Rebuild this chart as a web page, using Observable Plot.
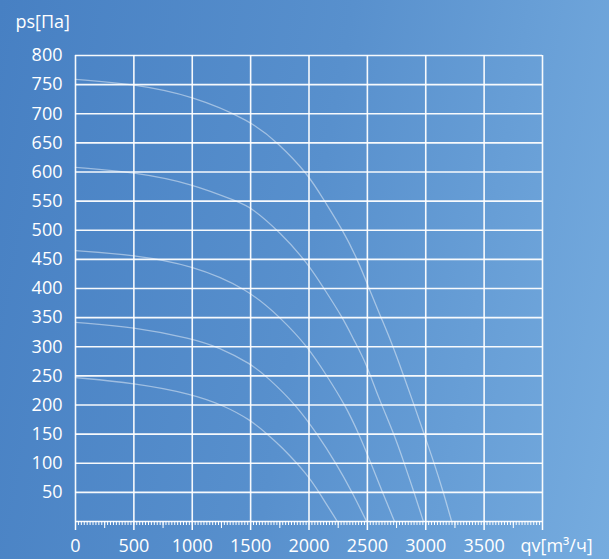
<!DOCTYPE html>
<html>
<head>
<meta charset="utf-8">
<script src="https://cdn.jsdelivr.net/npm/d3@7"></script>
<script src="https://cdn.jsdelivr.net/npm/@observablehq/plot@0.6"></script>
<style>
  html, body { margin: 0; padding: 0; }
  body {
    width: 609px; height: 559px; overflow: hidden;
    background: linear-gradient(100deg, #4780c3 0%, #5890cd 50%, #76acdf 100%);
  }
  svg { display: block; }
</style>
</head>
<body>
<div id="chart"></div>
<script>
// Axis tick values
const xGrid = [0, 500, 1000, 1500, 2000, 2500, 3000, 3500, 4000];
const xLabels = [0, 500, 1000, 1500, 2000, 2500, 3000, 3500];
const yGrid = [0, 50, 100, 150, 200, 250, 300, 350, 400, 450, 500, 550, 600, 650, 700, 750, 800];
const yLabels = [50, 100, 150, 200, 250, 300, 350, 400, 450, 500, 550, 600, 650, 700, 750, 800];
const xMinor = d3.range(0, 4001, 25);
const xMid = d3.range(250, 4000, 500);

// Curve data (qv, ps)
const curve1Q = [0, 500, 1000, 1500, 1730, 1990, 2130, 2290, 2415, 2515, 2615, 2700, 2810, 2900, 2986, 3071, 3151, 3222];
const curve1P = [759, 751, 731, 688, 651, 597, 551, 500, 450, 400, 351, 311, 251, 200, 150, 101, 50, 0];
const curve2Q = [0, 500, 1000, 1400, 1500, 1757, 1994, 2128, 2286, 2386, 2491, 2590, 2729, 2814, 2900, 2980];
const curve2P = [608, 600, 580, 548, 540, 496, 442, 400, 351, 311, 271, 215, 150, 101, 50, 0];
const curve3Q = [0, 500, 1000, 1470, 1757, 1990, 2150, 2310, 2428, 2529, 2629, 2733];
const curve3P = [465, 458, 440, 400, 350, 300, 251, 200, 150, 101, 50, 0];
const curve4Q = [0, 500, 1000, 1229, 1500, 1643, 1886, 2071, 2229, 2371, 2493];
const curve4P = [342, 334, 314, 299, 271, 248, 201, 150, 101, 50, 0];
const curve5Q = [0, 500, 1000, 1271, 1494, 1643, 1757, 1994, 2086, 2243];
const curve5P = [247, 238, 219, 199, 175, 150, 130, 79, 50, 0];

const curves = [
  [curve1Q, curve1P], [curve2Q, curve2P], [curve3Q, curve3P],
  [curve4Q, curve4P], [curve5Q, curve5P]
];
const table = curves.flatMap(([qs, ps], i) => qs.map((q, j) => ({series: i, q, p: ps[j]})));

const chart = Plot.plot({
  width: 609,
  height: 559,
  marginLeft: 75,
  marginRight: 67,
  marginTop: 55,
  marginBottom: 38,
  style: {background: "transparent", color: "white", fontFamily: "'Open Sans', sans-serif", fontSize: "18px", overflow: "visible"},
  x: {domain: [0, 4000], label: null},
  y: {domain: [0, 800], label: null},
  marks: [
    Plot.ruleY(yGrid, {stroke: "white", strokeOpacity: 0.95, strokeWidth: 1.6}),
    Plot.ruleX(xGrid, {stroke: "white", strokeOpacity: 0.95, strokeWidth: 1.6}),
    Plot.line(table, {x: "q", y: "p", z: "series", curve: "basis", stroke: "white", strokeOpacity: 0.45, strokeWidth: 1.3}),
    Plot.axisX({ticks: xMinor, tickSize: 4, tickFormat: () => "", stroke: "white", strokeWidth: 1, label: null}),
    Plot.axisX({ticks: xMid, tickSize: 7, tickFormat: () => "", stroke: "white", strokeWidth: 1, label: null}),
    Plot.axisX({ticks: xGrid, tickSize: 9, tickFormat: () => "", stroke: "white", strokeWidth: 1.5, label: null}),
    Plot.axisX({ticks: xLabels, tickSize: 0, tickPadding: 18, tickFormat: d => String(d), fontSize: 18, fill: "white", label: null}),
    Plot.axisY({ticks: yLabels, tickSize: 0, tickPadding: 13, tickFormat: d => String(d), fontSize: 18, fill: "white", label: null}),
    Plot.text(["ps[Па]"], {frameAnchor: "top-left", textAnchor: "start", lineAnchor: "middle", dx: -60, dy: -33, fill: "white", fontSize: 18}),
    Plot.text(["qv[m³/ч]"], {frameAnchor: "bottom-right", textAnchor: "start", lineAnchor: "middle", dx: -22, dy: 25, fill: "white", fontSize: 18})
  ]
});
document.getElementById("chart").appendChild(chart);
</script>
</body>
</html>
